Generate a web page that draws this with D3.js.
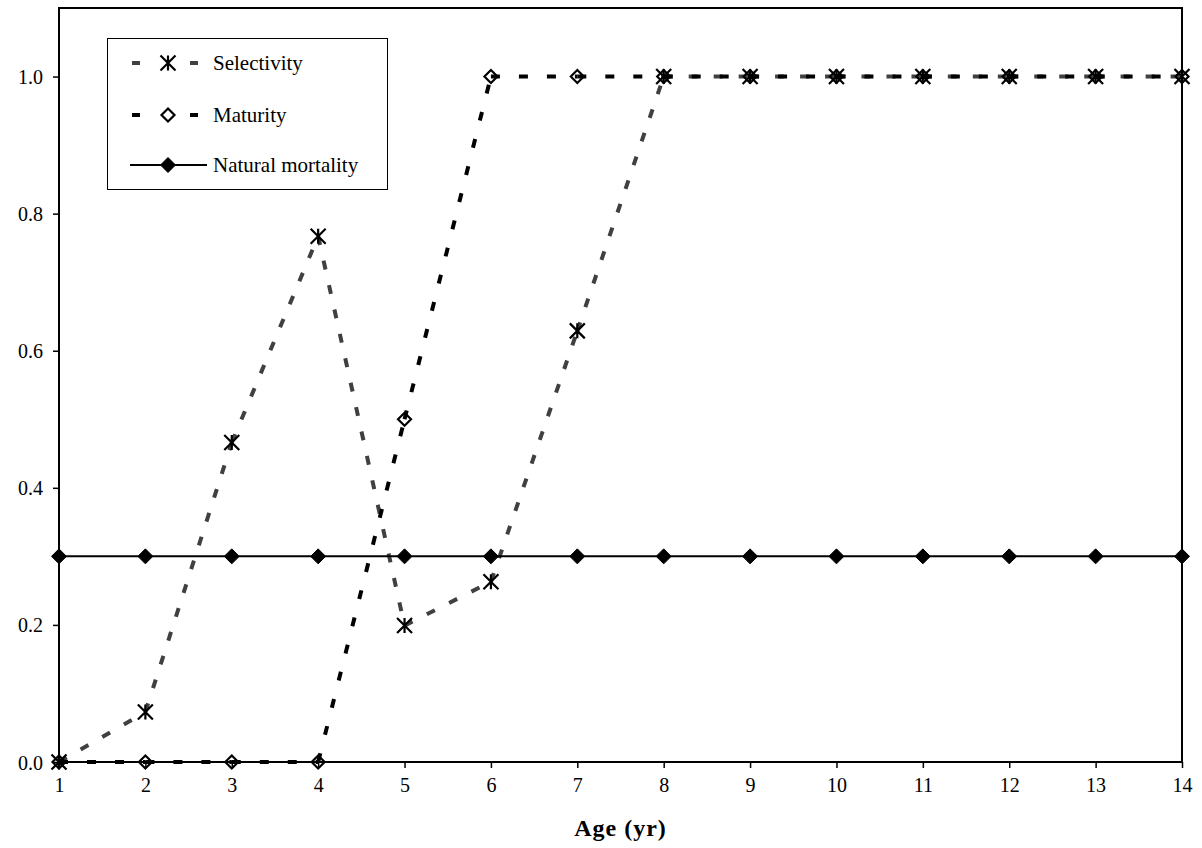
<!DOCTYPE html>
<html>
<head>
<meta charset="utf-8">
<script src="https://cdn.jsdelivr.net/npm/d3@7"></script>
<style>
  body { margin: 0; background: #fff; }
  text { font-family: "Liberation Serif", "Times New Roman", serif; }
</style>
</head>
<body>
<div id="chart"></div>
<script>
// data
var ages = [1, 2, 3, 4, 5, 6, 7, 8, 9, 10, 11, 12, 13, 14];
var selectivity = [0, 0.073, 0.466, 0.767, 0.199, 0.263, 0.629, 1, 1, 1, 1, 1, 1, 1];
var maturity = [0, 0, 0, 0, 0.5, 1, 1, 1, 1, 1, 1, 1, 1, 1];
var naturalMortality = [0.3, 0.3, 0.3, 0.3, 0.3, 0.3, 0.3, 0.3, 0.3, 0.3, 0.3, 0.3, 0.3, 0.3];
var yTicks = [0, 0.2, 0.4, 0.6, 0.8, 1.0];
var seriesNames = ["Selectivity", "Maturity", "Natural mortality"];

var width = 1202, height = 848;
var margin = {left: 59, top: 8, right: 20, bottom: 86};
var w = width - margin.left - margin.right;
var h = height - margin.top - margin.bottom;

var svg = d3.select("#chart").append("svg")
  .attr("width", width)
  .attr("height", height);

var g = svg.append("g").attr("transform", "translate(" + margin.left + "," + margin.top + ")");

var x = d3.scaleLinear().domain([1, 14]).range([0, w]);
var y = d3.scaleLinear().domain([0, 1.1]).range([h, 0]);

// axes
var xAxis = g.append("g")
  .attr("transform", "translate(0," + h + ")")
  .call(d3.axisBottom(x).tickValues(ages).tickSize(6).tickPadding(10).tickFormat(d3.format("d")));
var yAxis = g.append("g")
  .call(d3.axisLeft(y).tickValues(yTicks).tickSize(6).tickPadding(10).tickFormat(d3.format(".1f")));

[xAxis, yAxis].forEach(function(a) {
  a.select(".domain").remove();
  a.selectAll("line").attr("stroke", "#000").attr("stroke-width", 1.5);
  a.selectAll("text").attr("font-size", 20).attr("fill", "#000")
    .style("font-family", "'Liberation Serif', serif");
});
yAxis.selectAll("text").attr("dy", "0.35em");

// plot frame
g.append("rect")
  .attr("x", 0).attr("y", 0)
  .attr("width", w).attr("height", h)
  .attr("fill", "none")
  .attr("stroke", "#000")
  .attr("stroke-width", 2);

svg.append("text")
  .attr("x", margin.left + w / 2)
  .attr("y", 836)
  .attr("text-anchor", "middle")
  .attr("font-size", 24)
  .attr("letter-spacing", 1)
  .attr("font-weight", "bold")
  .text("Age (yr)");

// marker shapes
function starPath(s) {
  var r = s / 2;
  return "M" + (-r) + "," + (-r) + "L" + r + "," + r +
         "M" + (-r) + "," + r + "L" + r + "," + (-r) +
         "M0," + (-r) + "L0," + r;
}
function diamondPath(s) {
  var r = s / 2;
  return "M0," + (-r) + "L" + r + ",0L0," + r + "L" + (-r) + ",0Z";
}

function drawSeries(vals, opts) {
  var pts = ages.map(function(a, i) { return [x(a), y(vals[i])]; });
  var segs = d3.pairs(pts);
  g.append("g").selectAll("line").data(segs).enter().append("line")
    .attr("x1", function(d) { return d[0][0]; })
    .attr("y1", function(d) { return d[0][1]; })
    .attr("x2", function(d) { return d[1][0]; })
    .attr("y2", function(d) { return d[1][1]; })
    .attr("stroke", opts.color)
    .attr("stroke-width", opts.width)
    .attr("stroke-dasharray", opts.dash);
  g.append("g").selectAll("path").data(pts).enter().append("path")
    .attr("transform", function(d) { return "translate(" + d[0] + "," + d[1] + ")"; })
    .attr("d", opts.marker)
    .attr("fill", opts.fill)
    .attr("stroke", "#000")
    .attr("stroke-width", opts.mw);
}

var styles = [
  {color: "#404040", width: 4, dash: "9,16", marker: starPath(15), fill: "none", mw: 2.2},
  {color: "#000", width: 4, dash: "9,19", marker: diamondPath(13), fill: "none", mw: 2.2},
  {color: "#000", width: 2, dash: null, marker: diamondPath(15), fill: "#000", mw: 1}
];

drawSeries(selectivity, styles[0]);
drawSeries(maturity, styles[1]);
drawSeries(naturalMortality, styles[2]);

// legend
var legend = svg.append("g");
legend.append("rect")
  .attr("x", 107.5).attr("y", 38.5)
  .attr("width", 280).attr("height", 151)
  .attr("fill", "#fff")
  .attr("stroke", "#000")
  .attr("stroke-width", 1);

var rowY = [63, 115, 165];
seriesNames.forEach(function(name, i) {
  var st = styles[i];
  var ly = rowY[i];
  if (st.dash) {
    legend.append("line").attr("x1", 132).attr("x2", 140).attr("y1", ly).attr("y2", ly)
      .attr("stroke", st.color).attr("stroke-width", st.width);
    legend.append("line").attr("x1", 190).attr("x2", 198).attr("y1", ly).attr("y2", ly)
      .attr("stroke", st.color).attr("stroke-width", st.width);
  } else {
    legend.append("line").attr("x1", 130).attr("x2", 207).attr("y1", ly).attr("y2", ly)
      .attr("stroke", st.color).attr("stroke-width", st.width);
  }
  legend.append("path")
    .attr("transform", "translate(168," + ly + ")")
    .attr("d", st.marker)
    .attr("fill", st.fill)
    .attr("stroke", "#000")
    .attr("stroke-width", st.mw);
  legend.append("text")
    .attr("x", 213).attr("y", ly)
    .attr("dy", "0.33em")
    .attr("font-size", 21)
    .text(name);
});
</script>
</body>
</html>
